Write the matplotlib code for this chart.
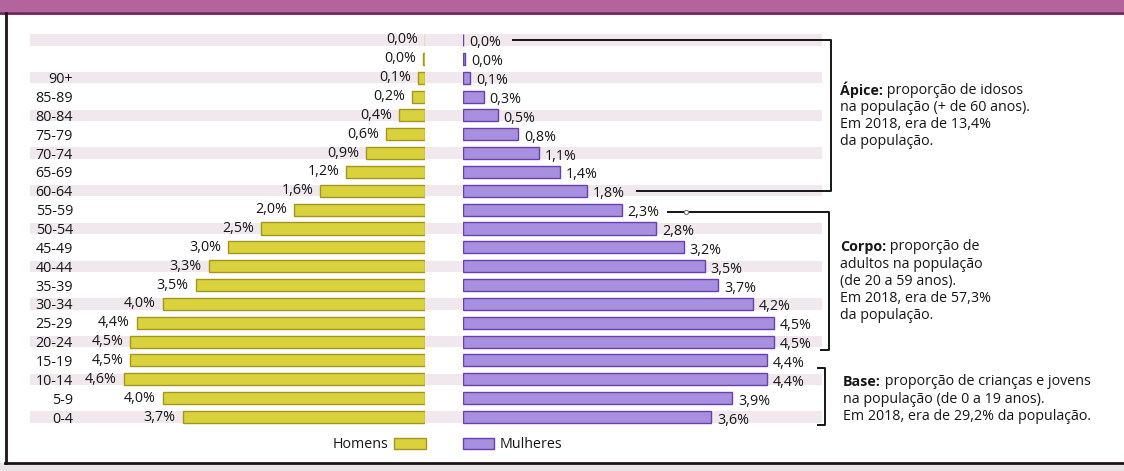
import matplotlib
matplotlib.use("Agg")
import matplotlib.pyplot as plt
from matplotlib.patches import Patch
from matplotlib.lines import Line2D

# ---------------------------------------------------------------
# dados (% da população, 2018) - de cima para baixo
# ---------------------------------------------------------------
ages = ["", "", "90+", "85-89", "80-84", "75-79", "70-74", "65-69", "60-64",
        "55-59", "50-54", "45-49", "40-44", "35-39", "30-34", "25-29",
        "20-24", "15-19", "10-14", "5-9", "0-4"]
homens = [0.0, 0.03, 0.1, 0.2, 0.4, 0.6, 0.9, 1.2, 1.6, 2.0, 2.5, 3.0, 3.3,
          3.5, 4.0, 4.4, 4.5, 4.5, 4.6, 4.0, 3.7]
mulheres = [0.0, 0.03, 0.1, 0.3, 0.5, 0.8, 1.1, 1.4, 1.8, 2.3, 2.8, 3.2, 3.5,
            3.7, 4.2, 4.5, 4.5, 4.4, 4.4, 3.9, 3.6]

W, H = 1124, 471
plt.rcParams['font.family'] = ['Open Sans', 'DejaVu Sans']
FS = 10.3
TXT = '#161616'

C_MEN, C_MEN_E = '#d9d23c', '#a3961f'
C_WOM, C_WOM_E = '#a88fdf', '#6a3fb0'
C_STRIPE = '#f0e8ec'


def box(x0, y0, x1, y1):
    # caixa em pixels (origem no topo) -> fração da figura
    return [x0 / W, 1 - y1 / H, (x1 - x0) / W, (y1 - y0) / H]


def pct(v):
    return f"{v:.1f}%".replace('.', ',')


fig = plt.figure(figsize=(W / 100, H / 100), dpi=100)
fig.patch.set_facecolor('white')

rows = list(range(len(ages)))
y_top, y_bot = 40 - 9.43, 417 + 9.43
ylim = (len(ages) - 0.5, -0.5)

# faixas de fundo
ax_bg = fig.add_axes(box(30, y_top, 822, y_bot))
ax_bg.set_xlim(0, 1)
ax_bg.set_ylim(*ylim)
for r in rows[::2]:
    ax_bg.axhspan(r - 0.3, r + 0.3, color=C_STRIPE, lw=0)
ax_bg.axis('off')

# --- Homens ---
ax_m = fig.add_axes(box(78, y_top, 425, y_bot))
ax_m.barh(rows, homens, height=0.64, color=C_MEN, edgecolor=C_MEN_E, linewidth=1.0)
ax_m.set_xlim(347 / 65.5, 0)
ax_m.set_ylim(*ylim)
ax_m.set_yticks(rows)
ax_m.set_yticklabels(ages, fontsize=FS, color=TXT)
ax_m.tick_params(axis='y', length=0, pad=3.6)
ax_m.set_xticks([])
for s in ax_m.spines.values():
    s.set_visible(False)
ax_m.patch.set_visible(False)
for r, v in zip(rows, homens):
    ax_m.annotate(pct(v), (v, r), xytext=(-7, 0), textcoords='offset pixels',
                  ha='right', va='center', fontsize=FS, color=TXT)

# --- Mulheres ---
ax_w = fig.add_axes(box(463, y_top, 833, y_bot))
ax_w.barh(rows, mulheres, height=0.64, color=C_WOM, edgecolor=C_WOM_E, linewidth=1.0)
ax_w.set_xlim(0, 370 / 69)
ax_w.set_ylim(*ylim)
ax_w.axis('off')
for r, v in zip(rows, mulheres):
    ax_w.annotate(pct(v), (v, r), xytext=(6, -3), textcoords='offset pixels',
                  ha='left', va='center', fontsize=FS, color=TXT)

# chaves (Ápice / Corpo / Base)
tr = ax_w.get_yaxis_transform()
kw = dict(color='#151515', lw=1.4, transform=tr, clip_on=False)
ax_w.add_line(Line2D([0.135, 0.995, 0.995, 0.47], [0.0, 0.0, 8.0, 8.0], **kw))
ax_w.add_line(Line2D([0.555, 0.989, 0.989, 0.968], [9.1, 9.1, 16.45, 16.45], **kw))
ax_w.plot([0.603], [9.1], marker='o', ms=3, mfc='white', mec='#777777', mew=0.8,
          transform=tr, clip_on=False)
ax_w.add_line(Line2D([0.959, 0.978, 0.978, 0.959], [17.4, 17.4, 20.42, 20.42], **kw))

# textos explicativos
notes = [
    ("Ápice:", ["proporção de idosos", "na população (+ de 60 anos).",
                "Em 2018, era de 13,4%", "da população."], 90, 840),
    ("Corpo:", ["proporção de", "adultos na população", "(de 20 a 59 anos).",
                "Em 2018, era de 57,3%", "da população."], 247, 840),
    ("Base:", ["proporção de crianças e jovens", "na população (de 0 a 19 anos).",
               "Em 2018, era de 29,2% da população."], 382, 843),
]
for head, lines, y0, x0 in notes:
    t = fig.text(x0 / W, 1 - y0 / H, head, fontsize=FS, fontweight='bold',
                 va='center', ha='left', color=TXT)
    fig.add_artist(plt.Annotation(" " + lines[0], xy=(1, 0), xycoords=t,
                                  va='bottom', ha='left', fontsize=FS, color=TXT))
    for i, ln in enumerate(lines[1:], start=1):
        fig.text(x0 / W, 1 - (y0 + i * 17.2) / H, ln, fontsize=FS, va='center',
                 ha='left', color=TXT)

# legenda
h_m = Patch(facecolor=C_MEN, edgecolor=C_MEN_E, linewidth=1.0)
h_w = Patch(facecolor=C_WOM, edgecolor=C_WOM_E, linewidth=1.0)
leg_kw = dict(frameon=False, fontsize=FS, handlelength=2.2, handleheight=0.85,
              handletextpad=0.4, borderpad=0, borderaxespad=0)
l1 = fig.legend([h_m], ["Homens"], loc='center right', markerfirst=False,
                bbox_to_anchor=(425.5 / W, 1 - 445 / H), **leg_kw)
l2 = fig.legend([h_w], ["Mulheres"], loc='center left',
                bbox_to_anchor=(462.5 / W, 1 - 445 / H), **leg_kw)
for lg in (l1, l2):
    for tx in lg.get_texts():
        tx.set_color(TXT)

# moldura da página
ax_fr = fig.add_axes([0, 0, 1, 1], zorder=-5)
ax_fr.set_xlim(0, W)
ax_fr.set_ylim(H, 0)
ax_fr.axis('off')
ax_fr.axhspan(0, 12, color='#b3649c', lw=0)
ax_fr.axhline(12.5, color='#6d2253', lw=2)
ax_fr.axhspan(463, H, color='#ebe4e7', lw=0)
ax_fr.axhline(462.5, xmin=5 / W, color='#1c1416', lw=2)
ax_fr.axvline(5.5, ymin=(H - 462.5) / H, ymax=(H - 12.5) / H, color='#1c1416', lw=2)

fig.savefig("out.png", dpi=100)
